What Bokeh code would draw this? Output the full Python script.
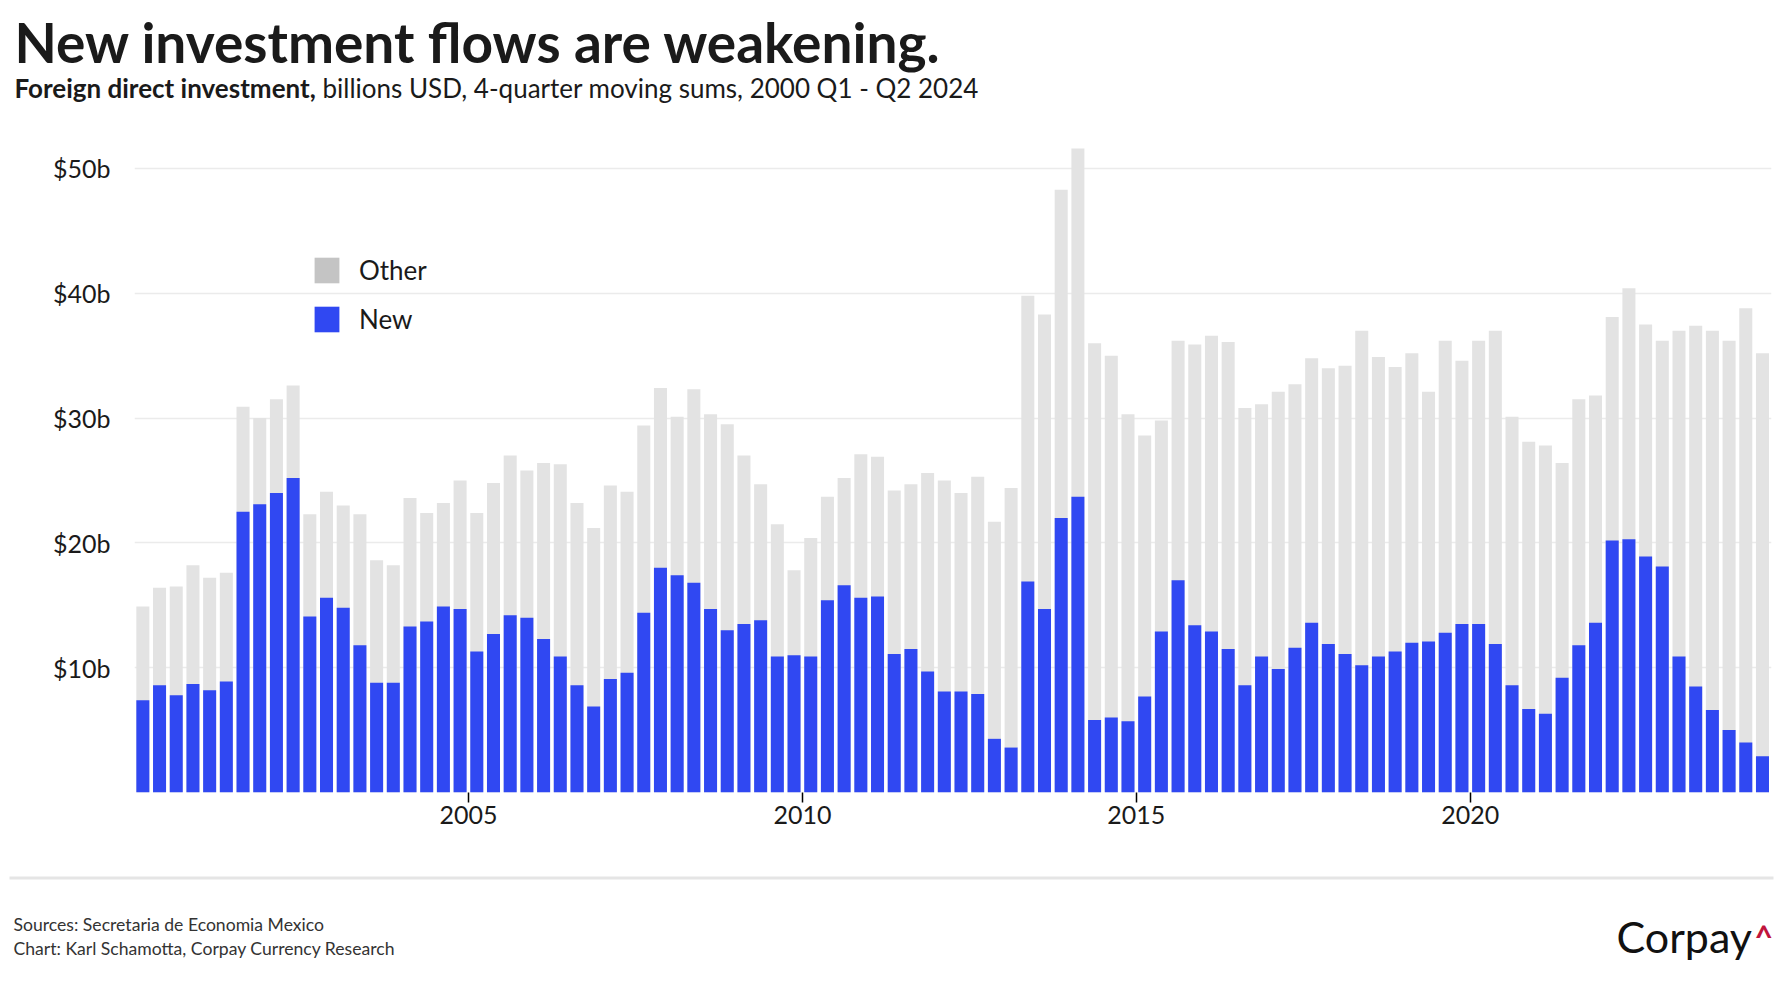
from bokeh.plotting import figure
from bokeh.layouts import column
from bokeh.models import (ColumnDataSource, Range1d, FixedTicker, Label, Legend, LegendItem,
                          BoxAnnotation, Plot)
from bokeh.embed import file_html
from bokeh.resources import INLINE

# ---- data: FDI into Mexico, billions USD, 4-quarter moving sums, 2000 Q1 - 2024 Q2 ----
start_year = 2000
total_fdi = [
    14.9, 16.4, 16.5, 18.2, 17.2, 17.6, 30.9, 30.0, 31.5, 32.6,
    22.3, 24.1, 23.0, 22.3, 18.6, 18.2, 23.6, 22.4, 23.2, 25.0,
    22.4, 24.8, 27.0, 25.8, 26.4, 26.3, 23.2, 21.2, 24.6, 24.1,
    29.4, 32.4, 30.1, 32.3, 30.3, 29.5, 27.0, 24.7, 21.5, 17.8,
    20.4, 23.7, 25.2, 27.1, 26.9, 24.2, 24.7, 25.6, 25.0, 24.0,
    25.3, 21.7, 24.4, 39.8, 38.3, 48.3, 51.6, 36.0, 35.0, 30.3,
    28.6, 29.8, 36.2, 35.9, 36.6, 36.1, 30.8, 31.1, 32.1, 32.7,
    34.8, 34.0, 34.2, 37.0, 34.9, 34.1, 35.2, 32.1, 36.2, 34.6,
    36.2, 37.0, 30.1, 28.1, 27.8, 26.4, 31.5, 31.8, 38.1, 40.4,
    37.5, 36.2, 37.0, 37.4, 37.0, 36.2, 38.8, 35.2,
]
new_fdi = [
    7.4, 8.6, 7.8, 8.7, 8.2, 8.9, 22.5, 23.1, 24.0, 25.2,
    14.1, 15.6, 14.8, 11.8, 8.8, 8.8, 13.3, 13.7, 14.9, 14.7,
    11.3, 12.7, 14.2, 14.0, 12.3, 10.9, 8.6, 6.9, 9.1, 9.6,
    14.4, 18.0, 17.4, 16.8, 14.7, 13.0, 13.5, 13.8, 10.9, 11.0,
    10.9, 15.4, 16.6, 15.6, 15.7, 11.1, 11.5, 9.7, 8.1, 8.1,
    7.9, 4.3, 3.6, 16.9, 14.7, 22.0, 23.7, 5.8, 6.0, 5.7,
    7.7, 12.9, 17.0, 13.4, 12.9, 11.5, 8.6, 10.9, 9.9, 11.6,
    13.6, 11.9, 11.1, 10.2, 10.9, 11.3, 12.0, 12.1, 12.8, 13.5,
    13.5, 11.9, 8.6, 6.7, 6.3, 9.2, 11.8, 13.6, 20.2, 20.3,
    18.9, 18.1, 10.9, 8.5, 6.6, 5.0, 4.0, 2.9,
]
y_ticks = [10, 20, 30, 40, 50]
y_tick_labels = ["$10b", "$20b", "$30b", "$40b", "$50b"]
x_ticks = [2005, 2010, 2015, 2020]
x_tick_labels = ["2005", "2010", "2015", "2020"]
legend_labels = ["Other", "New"]

# quarter mid-points as fractional years
quarter_x = [start_year + i / 4 + 0.125 for i in range(len(total_fdi))]
other_fdi = [round(t - n, 2) for t, n in zip(total_fdi, new_fdi)]

src = ColumnDataSource(dict(x=quarter_x, total=total_fdi, new=new_fdi, other=other_fdi))

BLUE = "#3048F2"
GREY_BAR = "#E3E3E3"
GREY_KEY = "#C4C4C4"
INK = "#1a1a1a"
FONT = "Lato"
W = 1776
FRAME_L, FRAME_R = 134, 1771
CAN_UNALIGN = "frame_align" in Plot.properties()


def blank_fig(height, y0):
    """Figure used as a text panel; data coordinates are page pixels (y down)."""
    kw = {}
    if CAN_UNALIGN:
        kw["frame_align"] = False
        xr = Range1d(0, W)
    else:
        xr = Range1d(FRAME_L, FRAME_R)
    f = figure(width=W, height=height, output_backend="svg", toolbar_location=None,
               x_range=xr, y_range=Range1d(y0 + height, y0),
               x_axis_type=None, y_axis_type=None, min_border=0, **kw)
    f.outline_line_color = None
    f.grid.grid_line_color = None
    f.background_fill_color = "white"
    f.border_fill_color = "white"
    return f


def lab(fig, text, x, y, size, style="normal", color=INK, font=FONT):
    fig.add_layout(Label(x=x, y=y, text=text, text_font=font, text_font_size=size,
                         text_font_style=style, text_color=color,
                         text_baseline="alphabetic", text_align="left"))


# ---------------- header ----------------
head = blank_fig(128, 0)
lab(head, "New investment flows are weakening.", 14, 41, "55px", "bold")
lab(head, "Foreign direct investment,", 14, 87, "26px", "bold")
lab(head, "billions USD, 4-quarter moving sums, 2000 Q1 - Q2 2024", 322, 87, "26px")

# ---------------- chart ----------------
p = figure(width=W, height=732, output_backend="svg", toolbar_location=None,
           x_range=Range1d(2000.0, 2024.51), y_range=Range1d(0, 53.2),
           min_border_left=FRAME_L, min_border_right=W - FRAME_R, min_border_top=0,
           min_border_bottom=68)
p.outline_line_color = None
p.background_fill_color = "white"
p.border_fill_color = "white"

p.vbar(x="x", top="total", width=0.195, source=src, fill_color=GREY_BAR, line_color=None)
p.vbar(x="x", top="new", width=0.195, source=src, fill_color=BLUE, line_color=None)

# legend swatches (zero-height keys, only used by the legend)
key_src = ColumnDataSource(dict(x=[quarter_x[0]], top=[0]))
r_other = p.vbar(x="x", top="top", width=0.01, source=key_src, fill_color=GREY_KEY, line_color=None)
r_new = p.vbar(x="x", top="top", width=0.01, source=key_src, fill_color=BLUE, line_color=None)
legend = Legend(items=[LegendItem(label=legend_labels[0], renderers=[r_other]),
                       LegendItem(label=legend_labels[1], renderers=[r_new])],
                location=(177, 457), orientation="vertical",
                glyph_width=31, glyph_height=32, spacing=17, label_standoff=17,
                padding=0, margin=0, border_line_color=None, background_fill_alpha=0,
                label_text_font=FONT, label_text_font_size="26px", label_text_color=INK)
p.add_layout(legend)

p.yaxis.ticker = FixedTicker(ticks=y_ticks)
p.yaxis.major_label_overrides = dict(zip(y_ticks, y_tick_labels))
p.yaxis.axis_line_color = None
p.yaxis.major_tick_line_color = None
p.yaxis.minor_tick_line_color = None
p.yaxis.major_label_standoff = 18
p.yaxis.major_label_text_font = FONT
p.yaxis.major_label_text_font_size = "25px"
p.yaxis.major_label_text_color = INK

p.xaxis.ticker = FixedTicker(ticks=x_ticks)
p.xaxis.major_label_overrides = dict(zip(x_ticks, x_tick_labels))
p.xaxis.axis_line_color = None
p.xaxis.major_tick_line_color = "black"
p.xaxis.major_tick_line_width = 1.5
p.xaxis.major_tick_out = 10
p.xaxis.major_tick_in = 0
p.xaxis.minor_tick_line_color = None
p.xaxis.major_label_standoff = 3
p.xaxis.major_label_text_font = FONT
p.xaxis.major_label_text_font_size = "25px"
p.xaxis.major_label_text_color = INK

p.xgrid.grid_line_color = None
p.ygrid.ticker = FixedTicker(ticks=y_ticks)
p.ygrid.grid_line_color = "#EBEBEB"
p.ygrid.grid_line_width = 1.5

# ---------------- footer ----------------
foot = blank_fig(138, 860)
foot.add_layout(BoxAnnotation(left=9, right=1773, top=876, bottom=879,
                              fill_color="#E5E5E5", fill_alpha=1, line_color=None))
lab(foot, "Sources: Secretaria de Economia Mexico", 13, 924, "17.6px", color="#333333")
lab(foot, "Chart: Karl Schamotta, Corpay Currency Research", 13, 948, "17.6px", color="#333333")
lab(foot, "Corpay", 1616, 936, "43px", color="#111111")
lab(foot, "^", 1754, 936, "32px", "bold", color="#C0143C")

layout = column(head, p, foot, spacing=0)
open("out.html", "w").write(file_html(layout, INLINE))
